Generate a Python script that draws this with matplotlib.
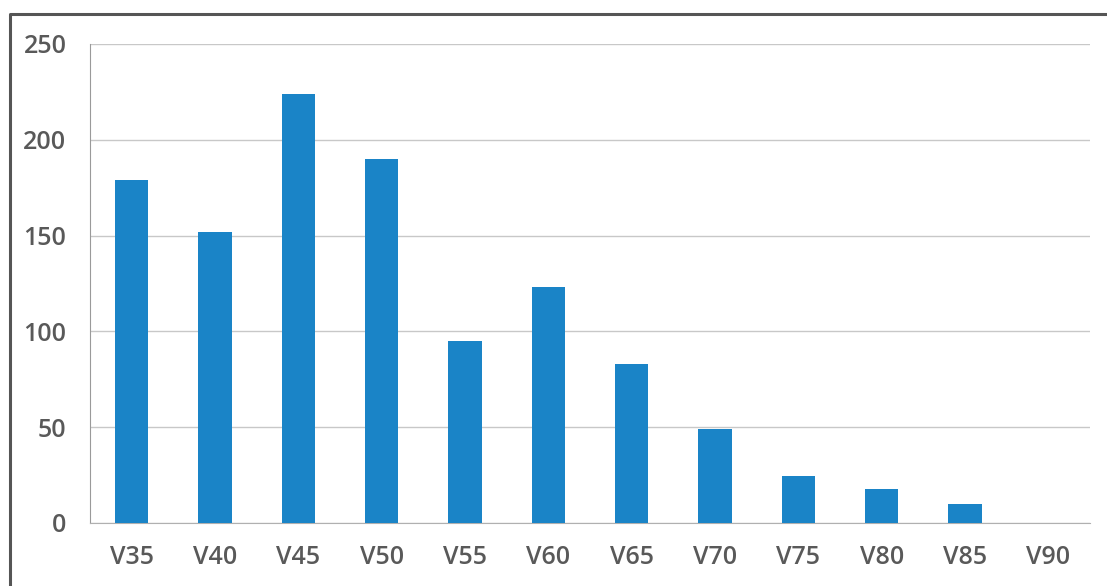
import matplotlib
matplotlib.use("Agg")
import matplotlib.pyplot as plt
from matplotlib.lines import Line2D

# data
categories = ["V35", "V40", "V45", "V50", "V55", "V60", "V65", "V70", "V75", "V80", "V85", "V90"]
values = [179, 152, 224, 190, 95, 123, 83, 49, 24.5, 18, 10, 0]
yticks = [0, 50, 100, 150, 200, 250]

plt.rcParams['font.family'] = ['Open Sans', 'DejaVu Sans']

fig = plt.figure(figsize=(11.07, 5.86), dpi=100)
ax = fig.add_axes([90 / 1107, 1 - 523 / 586, 1000 / 1107, 479 / 586])

x = range(len(categories))
ax.bar(x, values, width=0.4, color="#1a84c7", zorder=3)

ax.set_xlim(-0.5, len(categories) - 0.5)
ax.set_ylim(0, 250)
ax.set_yticks(yticks)
ax.set_xticks(list(x))
ax.set_xticklabels(categories)
ax.grid(axis="y", color="#c8c8c8", linewidth=1, zorder=0)

for s in ["top", "right"]:
    ax.spines[s].set_visible(False)
ax.spines["left"].set_color("#9a9a9a")
ax.spines["bottom"].set_color("#b0b0b0")
ax.tick_params(axis="both", colors="#595959", labelsize=18, length=0)
ax.tick_params(axis="x", pad=16)
ax.tick_params(axis="y", pad=17)
for lbl in ax.get_xticklabels() + ax.get_yticklabels():
    lbl.set_fontweight("semibold")

# scanned outer frame (left and top edges)
fig.lines.append(Line2D([10 / 1107, 10 / 1107, 1105 / 1107], [0, 1 - 14 / 586, 1 - 14 / 586],
                        transform=fig.transFigure, color="#555555", linewidth=2.2))

fig.savefig("out.png", dpi=100)
